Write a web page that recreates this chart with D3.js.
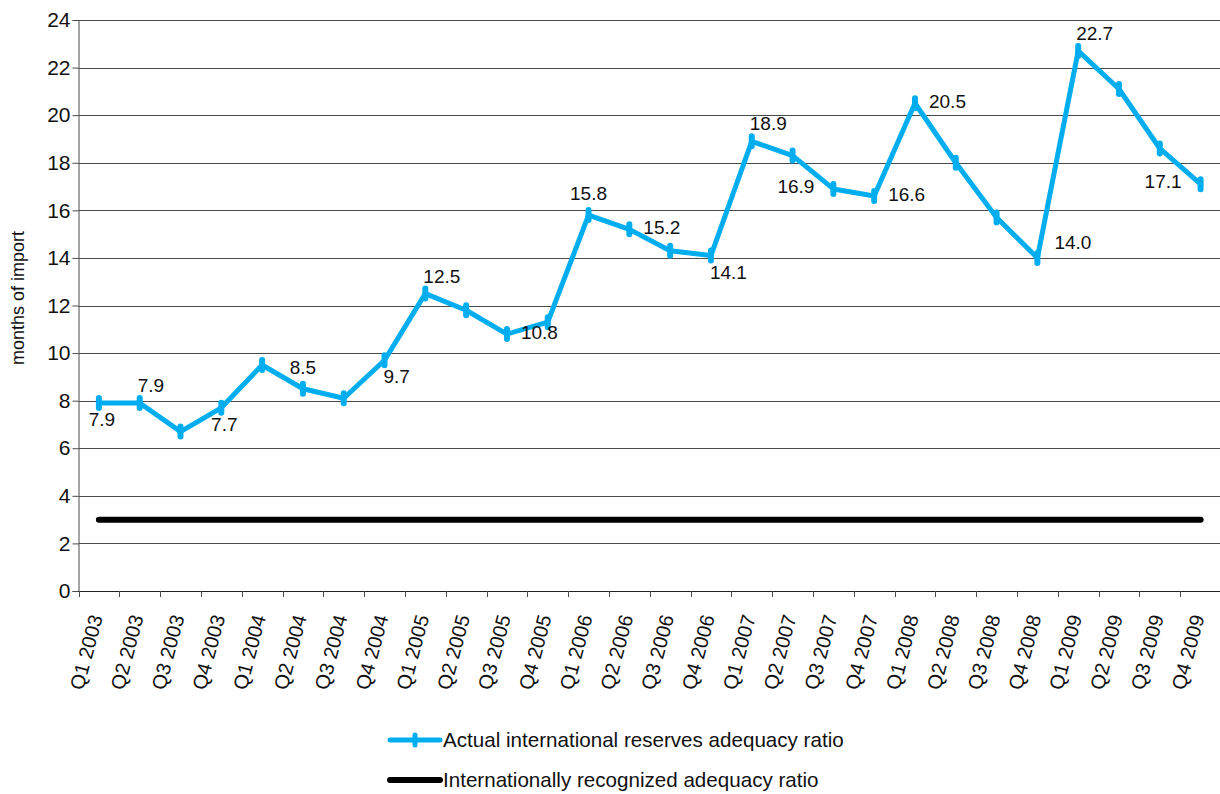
<!DOCTYPE html>
<html>
<head>
<meta charset="utf-8">
<script src="https://cdn.jsdelivr.net/npm/d3@7/dist/d3.min.js"></script>
<style>
  html, body { margin: 0; padding: 0; background: #fff; }
  svg { display: block; font-family: "Liberation Sans", Arial, Helvetica, sans-serif; }
</style>
</head>
<body>
<svg id="chart" width="1220" height="794"></svg>
<script>
// ---- data ----
const categories = [
  "Q1 2003","Q2 2003","Q3 2003","Q4 2003",
  "Q1 2004","Q2 2004","Q3 2004","Q4 2004",
  "Q1 2005","Q2 2005","Q3 2005","Q4 2005",
  "Q1 2006","Q2 2006","Q3 2006","Q4 2006",
  "Q1 2007","Q2 2007","Q3 2007","Q4 2007",
  "Q1 2008","Q2 2008","Q3 2008","Q4 2008",
  "Q1 2009","Q2 2009","Q3 2009","Q4 2009"
];
const actualRatio = [
  7.9, 7.9, 6.7, 7.7,
  9.5, 8.5, 8.1, 9.7,
  12.5, 11.8, 10.8, 11.3,
  15.8, 15.2, 14.3, 14.1,
  18.9, 18.3, 16.9, 16.6,
  20.5, 18.0, 15.7, 14.0,
  22.7, 21.1, 18.6, 17.1
];
const recognizedRatio = categories.map(() => 3);
// data labels shown on the chart (null = no label) and where they sit
const labelText = [
  "7.9","7.9",null,"7.7",
  null,"8.5",null,"9.7",
  "12.5",null,"10.8",null,
  "15.8","15.2",null,"14.1",
  "18.9",null,"16.9","16.6",
  "20.5",null,null,"14.0",
  "22.7",null,null,"17.1"
];
const labelPlace = [
  "S","NE",null,"S",
  null,"N",null,"SE",
  "NE",null,"E",null,
  "N","E",null,"SE",
  "NE",null,"W","E",
  "E",null,null,"EN",
  "NE",null,null,"W"
];
const yTicks = [0,2,4,6,8,10,12,14,16,18,20,22,24];
const seriesNames = ["Actual international reserves adequacy ratio", "Internationally recognized adequacy ratio"];
const yTitle = "months of import";

// ---- layout ----
const svg = d3.select("#chart");
const pLeft = 78.5, pRight = 1221, pTop = 20, pBottom = 591;
const blue = "#00AEEF";
const gridColor = "#4a4a4a";

const x = d3.scaleBand().domain(categories).range([pLeft, pRight]).paddingInner(0).paddingOuter(0);
const y = d3.scaleLinear().domain([0, 24]).range([pBottom, pTop]);
const cx = c => x(c) + x.bandwidth() / 2;

// gridlines
svg.append("g").selectAll("line").data(yTicks.filter(t => t > 0)).join("line")
  .attr("x1", pLeft).attr("x2", 1220)
  .attr("y1", d => Math.round(y(d)) + 0.5).attr("y2", d => Math.round(y(d)) + 0.5)
  .attr("stroke", gridColor).attr("stroke-width", 1);

// y axis
const yAxis = svg.append("g").attr("transform", `translate(${pLeft},0)`)
  .call(d3.axisLeft(y).tickValues(yTicks).tickSize(6).tickPadding(2).tickFormat(d3.format("d")));
yAxis.select(".domain").attr("stroke", gridColor);
yAxis.selectAll(".tick line").attr("stroke", gridColor);
yAxis.selectAll(".tick text").attr("font-size", 21).attr("fill", "#111").attr("font-family", "Liberation Sans, Arial, sans-serif");

// x axis
const xAxis = svg.append("g").attr("transform", `translate(0,${pBottom})`)
  .call(d3.axisBottom(x).tickSize(0).tickFormat(""));
xAxis.select(".domain").attr("stroke", "#222").attr("d", `M${pLeft},0.5H1220`);
xAxis.selectAll(".tick").remove();
// boundary ticks
svg.append("g").selectAll("line").data(categories).join("line")
  .attr("x1", d => Math.round(x(d)) + 0.5).attr("x2", d => Math.round(x(d)) + 0.5)
  .attr("y1", pBottom).attr("y2", pBottom + 6)
  .attr("stroke", gridColor);
// x labels
svg.append("g").selectAll("text").data(categories).join("text")
  .attr("transform", d => `translate(${cx(d) + 4},${617}) rotate(-75)`)
  .attr("text-anchor", "end")
  .attr("font-size", 20)
  .attr("fill", "#111")
  .text(d => d);

// y title
svg.append("text")
  .attr("transform", `translate(24,${298}) rotate(-90)`)
  .attr("text-anchor", "middle")
  .attr("font-size", 18)
  .attr("fill", "#111")
  .text(yTitle);

// recognized ratio line
svg.append("path")
  .datum(recognizedRatio)
  .attr("fill", "none").attr("stroke", "#000").attr("stroke-width", 6).attr("stroke-linecap", "round")
  .attr("d", d3.line().x((d, i) => cx(categories[i])).y(d => y(d)));

// actual ratio line
svg.append("path")
  .datum(actualRatio)
  .attr("fill", "none").attr("stroke", blue).attr("stroke-width", 5)
  .attr("stroke-linejoin", "round").attr("stroke-linecap", "round")
  .attr("d", d3.line().x((d, i) => cx(categories[i])).y(d => y(d)));

// markers (vertical dashes)
svg.append("g").selectAll("line").data(actualRatio).join("line")
  .attr("x1", (d, i) => cx(categories[i])).attr("x2", (d, i) => cx(categories[i]))
  .attr("y1", d => y(d) - 5).attr("y2", d => y(d) + 5)
  .attr("stroke", blue).attr("stroke-width", 6).attr("stroke-linecap", "round");

// data labels
const place = {
  N:  { a: "middle", dx: 0,   dy: -15 },
  NE: { a: "start",  dx: -2,  dy: -11 },
  S:  { a: "middle", dx: 3,   dy: 23 },
  SE: { a: "start",  dx: -1,  dy: 23 },
  E:  { a: "start",  dx: 14,  dy: 5 },
  EN: { a: "start",  dx: 17,  dy: -9 },
  W:  { a: "end",    dx: -19, dy: 4 }
};
const lbl = actualRatio.map((v, i) => ({ v, i, t: labelText[i], p: labelPlace[i] })).filter(d => d.t);
svg.append("g").selectAll("text").data(lbl).join("text")
  .attr("x", d => cx(categories[d.i]) + place[d.p].dx)
  .attr("y", d => y(d.v) + place[d.p].dy)
  .attr("text-anchor", d => place[d.p].a)
  .attr("font-size", 19)
  .attr("fill", "#111")
  .text(d => d.t);

// legend
const lg = svg.append("g");
lg.append("line").attr("x1", 390).attr("x2", 440).attr("y1", 740).attr("y2", 740)
  .attr("stroke", blue).attr("stroke-width", 5).attr("stroke-linecap", "round");
lg.append("line").attr("x1", 415).attr("x2", 415).attr("y1", 735).attr("y2", 745)
  .attr("stroke", blue).attr("stroke-width", 5).attr("stroke-linecap", "round");
lg.append("text").attr("x", 443).attr("y", 747).attr("font-size", 20.6).attr("fill", "#111").text(seriesNames[0]);
lg.append("line").attr("x1", 390).attr("x2", 440).attr("y1", 780).attr("y2", 780)
  .attr("stroke", "#000").attr("stroke-width", 6).attr("stroke-linecap", "round");
lg.append("text").attr("x", 443).attr("y", 787).attr("font-size", 20.6).attr("fill", "#111").text(seriesNames[1]);
</script>
</body>
</html>
